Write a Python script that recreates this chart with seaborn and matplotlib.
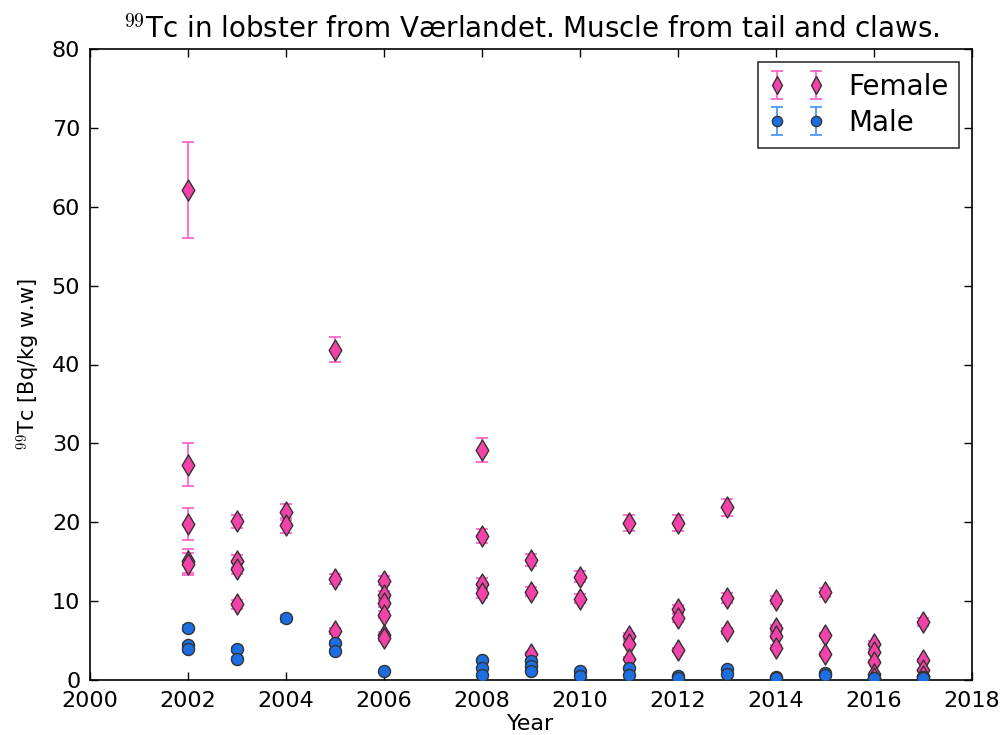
import matplotlib
matplotlib.use("Agg")
import matplotlib.pyplot as plt
import seaborn as sns
import numpy as np
import pandas as pd

# female samples
female_year = [2002, 2002, 2002, 2002, 2002,
               2003, 2003, 2003, 2003,
               2004, 2004,
               2005, 2005, 2005,
               2006, 2006, 2006, 2006, 2006, 2006,
               2008, 2008, 2008, 2008,
               2009, 2009, 2009,
               2010, 2010,
               2011, 2011, 2011, 2011,
               2012, 2012, 2012, 2012,
               2013, 2013, 2013,
               2014, 2014, 2014, 2014,
               2015, 2015, 2015,
               2016, 2016, 2016, 2016, 2016,
               2017, 2017, 2017, 2017]
female_tc = [62.1, 27.3, 19.8, 15.1, 14.7,
             20.1, 15.1, 14.1, 9.6,
             21.3, 19.6,
             41.9, 12.8, 6.2,
             12.6, 10.8, 9.7, 8.3, 5.7, 5.3,
             29.2, 18.3, 12.2, 11.0,
             15.2, 11.2, 3.3,
             13.1, 10.3,
             19.9, 5.6, 4.6, 2.7,
             19.9, 9.0, 7.9, 3.8,
             21.9, 10.4, 6.2,
             10.1, 6.6, 5.6, 4.1,
             11.1, 5.7, 3.3,
             4.6, 3.6, 2.3, 0.7, 0.3,
             7.3, 2.5, 1.3, 0.5]
female_err = [6.1, 2.7, 2.0, 1.5, 1.4,
              0.8, 0.8, 0.7, 0.6,
              1.0, 0.9,
              1.6, 0.6, 0.4,
              0.6, 0.5, 0.5, 0.4, 0.4, 0.3,
              1.5, 0.9, 0.7, 0.6,
              0.8, 0.6, 0.3,
              0.7, 0.6,
              1.0, 0.4, 0.3, 0.2,
              1.0, 0.5, 0.5, 0.3,
              1.1, 0.6, 0.4,
              0.5, 0.4, 0.3, 0.3,
              0.6, 0.3, 0.3,
              0.3, 0.3, 0.2, 0.1, 0.1,
              0.5, 0.2, 0.1, 0.1]

# male samples
male_year = [2002, 2002, 2002,
             2003, 2003,
             2004,
             2005, 2005,
             2006,
             2008, 2008, 2008,
             2009, 2009, 2009,
             2010, 2010,
             2011, 2011,
             2012, 2012,
             2013, 2013,
             2014, 2014,
             2015, 2015,
             2016,
             2017, 2017]
male_tc = [6.6, 4.4, 3.9,
           3.9, 2.7,
           7.8,
           4.7, 3.7,
           1.2,
           2.5, 1.5, 0.6,
           2.4, 1.8, 1.2,
           1.1, 0.5,
           1.5, 0.6,
           0.5, 0.3,
           1.4, 0.7,
           0.4, 0.2,
           0.9, 0.6,
           0.3,
           0.4, 0.2]
male_err = [0.4, 0.3, 0.3,
            0.3, 0.2,
            0.4,
            0.3, 0.2,
            0.1,
            0.2, 0.1, 0.1,
            0.2, 0.1, 0.1,
            0.1, 0.1,
            0.1, 0.1,
            0.1, 0.1,
            0.1, 0.1,
            0.1, 0.1,
            0.1, 0.1,
            0.1,
            0.1, 0.1]

FEMALE_FACE = "#f542a8"
FEMALE_ERR = "#ff66cc"
MALE_FACE = "#1c6fe3"
MALE_ERR = "#4a98ff"

df = pd.concat([
    pd.DataFrame({"Year": female_year, "Tc": female_tc, "err": female_err, "Sex": "Female"}),
    pd.DataFrame({"Year": male_year, "Tc": male_tc, "err": male_err, "Sex": "Male"}),
], ignore_index=True)

sns.set_style("ticks", rc={"axes.edgecolor": "black", "text.color": "black",
                           "axes.labelcolor": "black", "xtick.color": "black",
                           "ytick.color": "black"})
plt.rcParams["font.family"] = ["DejaVu Sans"]
plt.rcParams["mathtext.fontset"] = "cm"

fig = plt.figure(figsize=(10.04, 7.35), dpi=100)
ax = fig.add_axes([90 / 1004, 1 - 680 / 735, 882 / 1004, 631 / 735])

styles = {
    "Female": dict(marker="d", face=FEMALE_FACE, ecol=FEMALE_ERR, s=115),
    "Male": dict(marker="o", face=MALE_FACE, ecol=MALE_ERR, s=75),
}

for sex in ["Female", "Male"]:
    st = styles[sex]
    sub = df[df["Sex"] == sex]
    ms = np.sqrt(st["s"])
    ax.errorbar(sub["Year"], sub["Tc"], yerr=sub["err"], fmt=st["marker"],
                color=st["face"], markeredgecolor="#333333", markersize=ms * 0.85,
                ecolor=st["ecol"], elinewidth=1.3, capsize=4, capthick=1.3,
                zorder=2, label=sex)
    sns.scatterplot(data=sub, x="Year", y="Tc", marker=st["marker"], color=st["face"],
                    s=st["s"], edgecolor="#333333", linewidth=1.0, ax=ax, zorder=3,
                    legend=False)

ax.set_xlim(2000, 2018)
ax.set_ylim(0, 80)
ax.set_xticks(np.arange(2000, 2019, 2))
ax.set_yticks(np.arange(0, 81, 10))
ax.tick_params(direction="in", top=True, right=True, length=6, width=1,
               labelsize=16)
ax.tick_params(axis="x", pad=8)
ax.tick_params(axis="y", pad=7)
for sp in ax.spines.values():
    sp.set_linewidth(1.2)
    sp.set_color("black")

ax.set_xlabel("Year", fontsize=16, labelpad=2)
ax.set_ylabel(r"$^{99}$Tc [Bq/kg w.w]", fontsize=15, labelpad=6)
ax.set_title(r"$^{99}$Tc in lobster from Værlandet. Muscle from tail and claws.",
             fontsize=20, pad=8)

leg = ax.legend(loc="upper right", numpoints=2, fontsize=20, frameon=True,
                fancybox=False, borderpad=0.4, handlelength=2.0,
                handletextpad=0.85, labelspacing=0.3, borderaxespad=0.45)
leg.get_frame().set_edgecolor("black")
leg.get_frame().set_linewidth(1.2)

fig.savefig("out.png", dpi=100)
